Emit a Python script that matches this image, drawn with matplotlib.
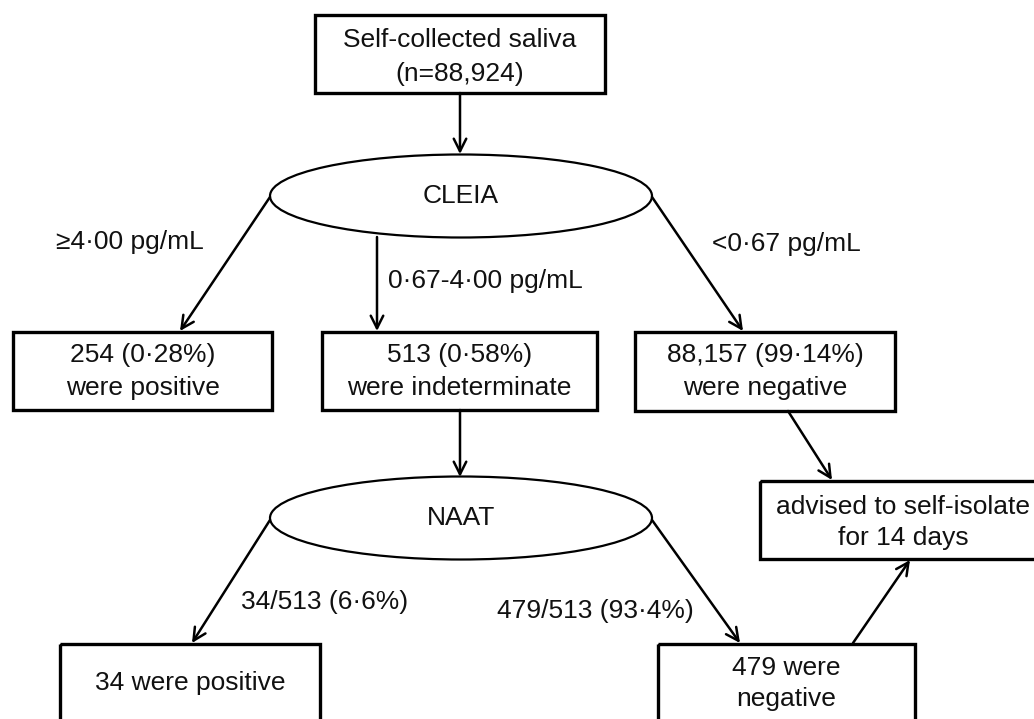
import matplotlib
matplotlib.use("Agg")
import matplotlib.pyplot as plt
from matplotlib.patches import Rectangle, Ellipse, FancyArrowPatch

plt.rcParams['font.family'] = ['Liberation Sans', 'DejaVu Sans']

# node texts
start_text = ["Self-collected saliva", "(n=88,924)"]
test_names = ["CLEIA", "NAAT"]
cleia_results = [["254 (0\u00b728%)", "were positive"],
                 ["513 (0\u00b758%)", "were indeterminate"],
                 ["88,157 (99\u00b714%)", "were negative"]]
cleia_cutoffs = ["\u22654\u00b700 pg/mL", "0\u00b767-4\u00b700 pg/mL", "<0\u00b767 pg/mL"]
naat_results = [["34 were positive"], ["479 were", "negative"]]
naat_splits = ["34/513 (6\u00b76%)", "479/513 (93\u00b74%)"]
isolate_text = ["advised to self-isolate", "for 14 days"]

W, H = 1034, 719
fig = plt.figure(figsize=(W / 100, H / 100), dpi=100)
ax = fig.add_axes([0, 0, 1, 1])
ax.set_xlim(0, W)
ax.set_ylim(H, 0)
ax.axis('off')

FS = 19
BOX_LW = 2.4


def box(x0, y0, x1, y1, lines, line_ys):
    ax.add_patch(Rectangle((x0, y0), x1 - x0, y1 - y0, fill=False,
                           lw=BOX_LW, ec='black', clip_on=True))
    cx = (x0 + x1) / 2 if x1 < W else 903
    for t, y in zip(lines, line_ys):
        ax.text(cx, y, t, ha='center', va='center', fontsize=FS, color='#111111')


def oval(cx, cy, w, h, label):
    ax.add_patch(Ellipse((cx, cy), w, h, fill=False, lw=1.6, ec='black'))
    ax.text(cx, cy, label, ha='center', va='center', fontsize=FS, color='#111111')


def arrow(p0, p1):
    ax.add_patch(FancyArrowPatch(p0, p1, arrowstyle='->,head_length=9,head_width=4.5',
                                 mutation_scale=1, lw=1.8, color='black',
                                 shrinkA=0, shrinkB=0))


# top box
box(315, 15, 605, 93, start_text, [40, 74])
arrow((460, 93), (460, 154))
oval(461, 196, 382, 83, test_names[0])

# CLEIA branches
arrow((270, 197), (180, 331))
arrow((377, 237), (377, 331))
arrow((652, 197), (743, 331))
ax.text(130, 242, cleia_cutoffs[0], ha='center', va='center', fontsize=FS, color='#111111')
ax.text(388, 281, cleia_cutoffs[1], ha='left', va='center', fontsize=FS, color='#111111')
ax.text(712, 244, cleia_cutoffs[2], ha='left', va='center', fontsize=FS, color='#111111')

box(13, 332, 272, 410, cleia_results[0], [355, 388])
box(322, 332, 597, 410, cleia_results[1], [355, 388])
box(635, 332, 895, 411, cleia_results[2], [355, 388])

# indeterminate -> NAAT
arrow((460, 410), (460, 477))
oval(461, 518, 382, 83, test_names[1])

# negative -> isolate
arrow((788, 411), (832, 480))
box(760, 481, 1046, 559, isolate_text, [507, 538])

# NAAT branches
arrow((270, 520), (192, 643))
arrow((652, 520), (740, 643))
ax.text(241, 602, naat_splits[0], ha='left', va='center', fontsize=FS, color='#111111')
ax.text(497, 611, naat_splits[1], ha='left', va='center', fontsize=FS, color='#111111')

box(60, 644, 320, 740, naat_results[0], [683])
box(658, 644, 915, 740, naat_results[1], [668, 699])

# 479 negative -> isolate
arrow((853, 643), (910, 560))

fig.savefig('out.png', dpi=100)
